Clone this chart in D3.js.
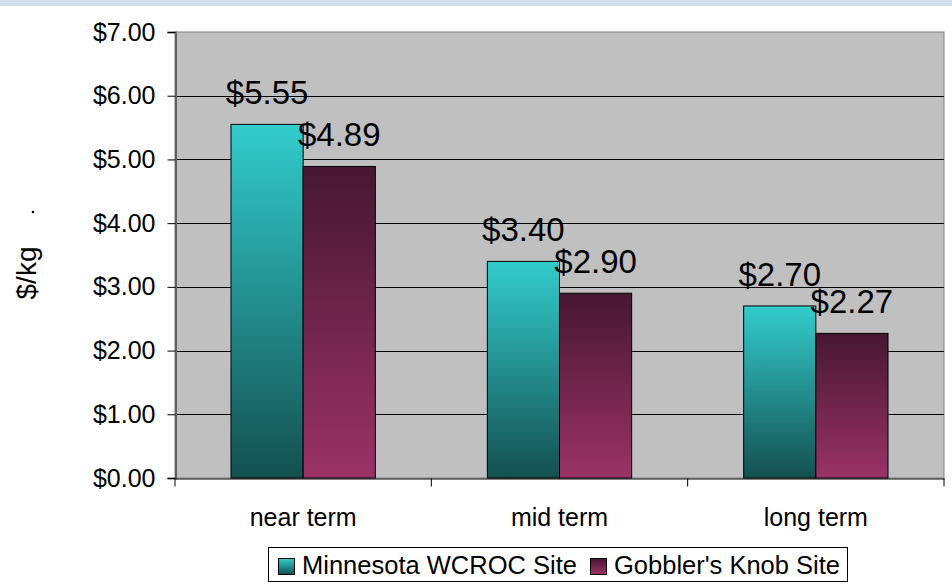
<!DOCTYPE html>
<html>
<head>
<meta charset="utf-8">
<style>
  body { margin: 0; background: #fff; }
  svg { display: block; font-family: Arial, "Liberation Sans", sans-serif; }
</style>
</head>
<body>
<svg width="952" height="586"></svg>
<script src="https://d3js.org/d3.v7.min.js"></script>
<script>
var categories = ["near term", "mid term", "long term"];
var seriesNames = ["Minnesota WCROC Site", "Gobbler's Knob Site"];
var wcroc = [5.55, 3.40, 2.70];
var gobbler = [4.89, 2.90, 2.27];
var yTicks = [0, 1, 2, 3, 4, 5, 6, 7];

var svg = d3.select("svg"),
    width = +svg.attr("width"),
    height = +svg.attr("height");

var margin = {top: 32, right: 8, bottom: 108, left: 175};
var x0 = margin.left, x1 = width - margin.right;
var yTop = margin.top, yBot = height - margin.bottom;
var ff = "Arial, 'Liberation Sans', sans-serif";

var fmt = function(v) { return "$" + d3.format(".2f")(v); };

// top banner strip
svg.append("rect").attr("x", 0).attr("y", 0).attr("width", width).attr("height", 6)
  .attr("fill", "#d3dfeb");

var defs = svg.append("defs");
var g1 = defs.append("linearGradient").attr("id", "gradA").attr("x1", 0).attr("y1", 0).attr("x2", 0).attr("y2", 1);
g1.append("stop").attr("offset", "0%").attr("stop-color", "#33cccc");
g1.append("stop").attr("offset", "100%").attr("stop-color", "#145050");
var g2 = defs.append("linearGradient").attr("id", "gradB").attr("x1", 0).attr("y1", 0).attr("x2", 0).attr("y2", 1);
g2.append("stop").attr("offset", "0%").attr("stop-color", "#461731");
g2.append("stop").attr("offset", "100%").attr("stop-color", "#9b3366");

var x = d3.scaleBand().domain(categories).range([x0, x1]).paddingInner(0).paddingOuter(0);
var xs = d3.scaleBand().domain([0, 1]).range([56, x.bandwidth() - 56]);
var y = d3.scaleLinear().domain([0, 7]).range([yBot, yTop]);

// plot background
svg.append("rect").attr("x", x0).attr("y", yTop).attr("width", x1 - x0).attr("height", yBot - yTop)
  .attr("fill", "#c0c0c0").attr("stroke", "#808080");

// gridlines
svg.append("g").selectAll("line").data(yTicks.filter(function(d) { return d > 0 && d < 7; }))
  .enter().append("line")
  .attr("x1", x0).attr("x2", x1)
  .attr("y1", function(d) { return Math.round(y(d)) + 0.5; })
  .attr("y2", function(d) { return Math.round(y(d)) + 0.5; })
  .attr("stroke", "#000").attr("stroke-width", 1);

// y axis
var yAxis = svg.append("g").attr("transform", "translate(" + (x0 + 0.5) + ",0)")
  .call(d3.axisLeft(y).tickValues(yTicks).tickFormat(fmt).tickSize(8).tickPadding(12));
yAxis.select(".domain").attr("stroke", "#606060").attr("stroke-width", 2);
yAxis.selectAll("text").attr("font-size", 25).attr("fill", "#000").attr("font-family", ff);

// x axis
var xAxis = svg.append("g").attr("transform", "translate(0," + (yBot + 0.5) + ")")
  .call(d3.axisBottom(x).tickSize(0));
xAxis.select(".domain").attr("stroke", "#000");
xAxis.selectAll("text").attr("font-size", 25).attr("fill", "#000").attr("font-family", ff)
  .attr("dy", null).attr("y", 47);
xAxis.append("g").selectAll("line").data([x0, x0 + x.bandwidth(), x0 + 2 * x.bandwidth(), x1])
  .enter().append("line")
  .attr("x1", function(d) { return d; }).attr("x2", function(d) { return d; })
  .attr("y1", 0).attr("y2", 8).attr("stroke", "#000");

// bars
var rows = categories.map(function(c, i) { return {cat: c, vals: [wcroc[i], gobbler[i]]}; });
var grp = svg.append("g").selectAll("g").data(rows).enter().append("g")
  .attr("transform", function(d) { return "translate(" + x(d.cat) + ",0)"; });

grp.selectAll("rect").data(function(d) { return d.vals; }).enter().append("rect")
  .attr("x", function(d, i) { return xs(i); })
  .attr("y", function(d) { return y(d); })
  .attr("width", xs.bandwidth())
  .attr("height", function(d) { return yBot - y(d); })
  .attr("fill", function(d, i) { return i === 0 ? "url(#gradA)" : "url(#gradB)"; })
  .attr("stroke", "#000").attr("stroke-width", 1);

grp.selectAll("text").data(function(d) { return d.vals; }).enter().append("text")
  .attr("x", function(d, i) { return xs(i) + xs.bandwidth() / 2; })
  .attr("y", function(d) { return y(d) - 20; })
  .attr("text-anchor", "middle")
  .attr("font-size", 33)
  .text(fmt);

// y title
svg.append("text")
  .attr("transform", "translate(36,273) rotate(-90)")
  .attr("text-anchor", "middle")
  .attr("font-size", 28)
  .text("$/kg");
svg.append("circle").attr("cx", 33).attr("cy", 212).attr("r", 1.3).attr("fill", "#000");

// legend
var leg = svg.append("g");
leg.append("rect").attr("x", 268.5).attr("y", 547.5).attr("width", 579).attr("height", 34)
  .attr("fill", "#fff").attr("stroke", "#000");
var legX = [278, 590];
seriesNames.forEach(function(s, i) {
  leg.append("rect").attr("x", legX[i] + 0.5).attr("y", 558.5).attr("width", 16).attr("height", 16)
    .attr("fill", i === 0 ? "url(#gradA)" : "url(#gradB)").attr("stroke", "#000");
  leg.append("text").attr("x", legX[i] + 24).attr("y", 574).attr("font-size", 25.5).text(s);
});
</script>
</body>
</html>
